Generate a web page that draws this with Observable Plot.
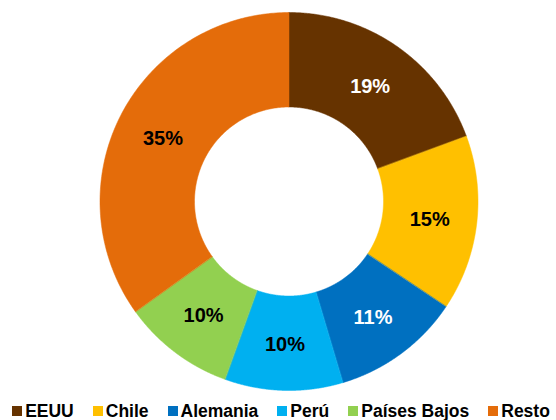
<!DOCTYPE html>
<html><head><meta charset="utf-8">
<script src="https://cdn.jsdelivr.net/npm/d3@7"></script>
<script src="https://cdn.jsdelivr.net/npm/@observablehq/plot@0.6"></script>
<style>
body{margin:0;background:#fff;font-family:"Liberation Sans",Arial,sans-serif;}
#wrap{width:556px;}
.lg-swatches{font-family:"Liberation Sans",Arial,sans-serif !important;font-size:17.5px !important;font-weight:bold !important;color:#000 !important;display:flex !important;justify-content:center !important;align-items:center !important;min-height:0 !important;height:22px;margin:0 !important;padding-left:6px;box-sizing:border-box;flex-wrap:nowrap !important;}
.lg-swatch{margin-right:19px !important;}
.lg-swatch:last-child{margin-right:0 !important;}
.lg-swatch > svg{margin-right:3px !important;}
</style></head><body><div id="wrap"></div>
<script>
const categories = ["EEUU","Chile","Alemania","Perú","Países Bajos","Resto"];
const shares = [19.4,15.0,11.0,10.1,9.6,34.9];
const shareLabels = ["19%","15%","11%","10%","10%","35%"];
const colors = ["#663300","#FFC000","#0070C0","#00B0F0","#92D050","#E46C0A"];
const labelColors = ["white","black","white","black","black","black"];

const W=556,H=400,cx=288.5,cy=201,R1=94.5,R2=189;
const arcs = d3.pie().sort(null).value(d=>d)(shares);
const pts=[];
const labels=[];
arcs.forEach((p,i)=>{
  const n=160;
  for(let k=0;k<=n;k++){const a=p.startAngle+(p.endAngle-p.startAngle)*k/n;pts.push({cat:categories[i],x:R2*Math.sin(a),y:R2*Math.cos(a)});}
  for(let k=n;k>=0;k--){const a=p.startAngle+(p.endAngle-p.startAngle)*k/n;pts.push({cat:categories[i],x:R1*Math.sin(a),y:R1*Math.cos(a)});}
  const m=(p.startAngle+p.endAngle)/2, r=(R1+R2)/2;
  labels.push({x:r*Math.sin(m),y:r*Math.cos(m)-1.5,t:shareLabels[i],c:labelColors[i]});
});
const chart = Plot.plot({
  width:W,height:H,margin:0,
  x:{domain:[-cx,W-cx],axis:null},
  y:{domain:[cy-H,cy],axis:null},
  color:{domain:categories,range:colors},
  marks:[
    Plot.line(pts,{x:"x",y:"y",z:"cat",fill:"cat",stroke:"cat",strokeWidth:0.5,curve:"linear-closed"}),
    Plot.text(labels.filter(d=>d.c==="white"),{x:"x",y:"y",text:"t",fill:"white",fontSize:20,fontWeight:"bold",fontFamily:"Liberation Sans, Arial, sans-serif"}),
    Plot.text(labels.filter(d=>d.c==="black"),{x:"x",y:"y",text:"t",fill:"black",fontSize:20,fontWeight:"bold",fontFamily:"Liberation Sans, Arial, sans-serif"})
  ]
});
document.getElementById("wrap").append(chart);
document.getElementById("wrap").append(chart.legend("color",{swatchSize:10,className:"lg"}));
</script></body></html>
